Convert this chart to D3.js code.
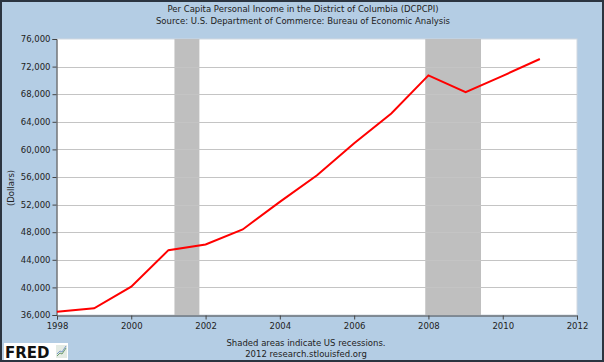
<!DOCTYPE html>
<html>
<head>
<meta charset="utf-8">
<script src="https://d3js.org/d3.v7.min.js"></script>
<style>
  body { margin: 0; padding: 0; background: #fff; }
  svg text { font-family: "DejaVu Sans", sans-serif; }
</style>
</head>
<body>
<svg id="vis"></svg>
<script>
// Annual values
var years = [1998, 1999, 2000, 2001, 2002, 2003, 2004, 2005, 2006, 2007, 2008, 2009, 2010, 2011];
var income = [36480, 36970, 40100, 45400, 46230, 48400, 52400, 56250, 60880, 65200, 70730, 68300, 70660, 73100];
var yTicks = [36000, 40000, 44000, 48000, 52000, 56000, 60000, 64000, 68000, 72000, 76000];
var xTickYears = [1998, 2000, 2002, 2004, 2006, 2008, 2010, 2012];
var recessions = [["2001-03-01", "2001-11-01"], ["2007-12-01", "2009-06-01"]];

var width = 604, height = 362;
var plotL = 57, plotR = 577, plotT = 39, plotB = 315;
var fs = "8.5px";

var svg = d3.select("#vis")
  .attr("width", width)
  .attr("height", height);

// background + dark frame
svg.append("rect")
  .attr("x", 1).attr("y", 1)
  .attr("width", width - 2).attr("height", height - 2)
  .attr("fill", "#b4cde4")
  .attr("stroke", "#2b3440")
  .attr("stroke-width", 2);

var parse = d3.timeParse("%Y-%m-%d");

var x = d3.scaleTime()
  .domain([new Date(1998, 0, 1), new Date(2012, 0, 1)])
  .range([plotL, plotR]);

var y = d3.scaleLinear()
  .domain([36000, 76000])
  .range([plotB, plotT]);

// plot area
svg.append("rect")
  .attr("x", plotL).attr("y", plotT)
  .attr("width", plotR - plotL).attr("height", plotB - plotT)
  .attr("fill", "#fff")
  .attr("stroke", "#d0d8e0")
  .attr("stroke-width", 1);

// recession bars
svg.selectAll("rect.rec")
  .data(recessions)
  .enter().append("rect")
  .attr("class", "rec")
  .attr("x", function(d) { return x(parse(d[0])); })
  .attr("y", plotT)
  .attr("width", function(d) { return x(parse(d[1])) - x(parse(d[0])); })
  .attr("height", plotB - plotT)
  .attr("fill", "#bfbfbf");

// gridlines
svg.append("g")
  .selectAll("line")
  .data(yTicks.slice(1, -1))
  .enter().append("line")
  .attr("x1", plotL).attr("x2", plotR)
  .attr("y1", function(d) { return Math.round(y(d)) + 0.5; })
  .attr("y2", function(d) { return Math.round(y(d)) + 0.5; })
  .attr("stroke", "#c4c4c4")
  .attr("stroke-width", 1);

// axes
var yAxis = svg.append("g")
  .attr("transform", "translate(" + (plotL - 0.5) + ",0)")
  .call(d3.axisLeft(y).tickValues(yTicks).tickSize(4).tickPadding(2).tickFormat(d3.format(",")));

var xAxis = svg.append("g")
  .attr("transform", "translate(0," + (plotB + 0.5) + ")")
  .call(d3.axisBottom(x)
    .tickValues(xTickYears.map(function(v) { return new Date(v, 0, 1); }))
    .tickSize(4).tickPadding(3)
    .tickFormat(d3.timeFormat("%Y")));

[yAxis, xAxis].forEach(function(a) {
  a.select(".domain").attr("stroke", "#444").attr("stroke-width", 1);
  a.selectAll(".tick line").attr("stroke", "#444");
  a.selectAll("text").attr("fill", "#222").style("font-size", fs).style("font-family", "DejaVu Sans, sans-serif");
});

// line
var line = d3.line()
  .x(function(d, i) { return x(new Date(years[i], 0, 1)); })
  .y(function(d) { return y(d); });

svg.append("path")
  .datum(income)
  .attr("d", line)
  .attr("fill", "none")
  .attr("stroke", "#ff0000")
  .attr("stroke-width", 2);

// titles
svg.append("text")
  .attr("x", 303).attr("y", 12)
  .attr("text-anchor", "middle")
  .style("font-size", fs)
  .attr("fill", "#222")
  .text("Per Capita Personal Income in the District of Columbia (DCPCPI)");

svg.append("text")
  .attr("x", 303).attr("y", 24)
  .attr("text-anchor", "middle")
  .style("font-size", fs)
  .attr("fill", "#222")
  .text("Source: U.S. Department of Commerce: Bureau of Economic Analysis");

svg.append("text")
  .attr("transform", "translate(14,188) rotate(-90)")
  .attr("text-anchor", "middle")
  .style("font-size", fs)
  .attr("fill", "#222")
  .text("(Dollars)");

// footer
svg.append("text")
  .attr("x", 306).attr("y", 346)
  .attr("text-anchor", "middle")
  .style("font-size", fs)
  .attr("fill", "#222")
  .text("Shaded areas indicate US recessions.");

svg.append("text")
  .attr("x", 306).attr("y", 357)
  .attr("text-anchor", "middle")
  .style("font-size", fs)
  .attr("fill", "#222")
  .text("2012 research.stlouisfed.org");

// FRED logo
var logo = svg.append("g").attr("transform", "translate(4,343)");
logo.append("rect")
  .attr("width", 64).attr("height", 17)
  .attr("fill", "#fff");
logo.append("text")
  .attr("x", 1).attr("y", 15)
  .style("font-size", "15px")
  .style("font-weight", "bold")
  .attr("fill", "#111")
  .text("FRED");
logo.append("rect")
  .attr("x", 52).attr("y", 2)
  .attr("width", 11).attr("height", 13)
  .attr("fill", "#e4ebe4");
logo.append("path")
  .attr("d", "M53,13 L56,10 L58,11 L62,5")
  .attr("fill", "none")
  .attr("stroke", "#6a9a6a")
  .attr("stroke-width", 1);
logo.append("path")
  .attr("d", "M53,11 L56,8 L58,9 L62,3")
  .attr("fill", "none")
  .attr("stroke", "#7a9ac8")
  .attr("stroke-width", 1);
</script>
</body>
</html>
